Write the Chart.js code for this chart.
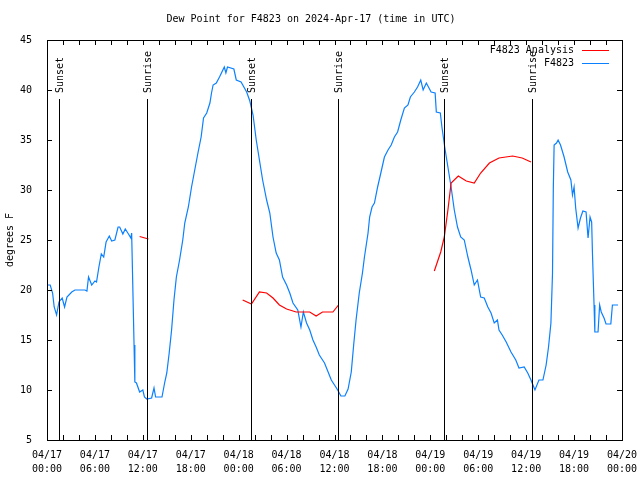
<!DOCTYPE html>
<html>
<head>
<meta charset="utf-8">
<script src="https://cdn.jsdelivr.net/npm/chart.js@4.4.1/dist/chart.umd.min.js"></script>
<style>
  html, body { margin: 0; padding: 0; background: #fff; }
  canvas { display: block; }
</style>
</head>
<body>
<canvas id="dew" width="640" height="480"></canvas>
<script>
// hours since 04/17 00:00 UTC
const obsHours = [
  0.0, 0.4, 0.7, 0.9, 1.2, 1.5, 1.9, 2.2, 2.5, 3.1, 3.5, 4.75, 5.0, 5.2, 5.6, 6.0, 6.2, 6.5, 6.8, 7.1,
  7.4, 7.8, 8.1, 8.5, 8.9, 9.1, 9.5, 9.8, 10.2, 10.5, 10.6, 10.7, 10.9, 11.0, 11.2, 11.6, 12.0, 12.2, 12.5, 13.1,
  13.4, 13.6, 14.4, 14.75, 15.0, 15.3, 15.6, 15.9, 16.2, 16.6, 17.0, 17.25, 17.7, 18.1, 18.5, 18.9, 19.3, 19.6, 20.0, 20.4,
  20.6, 20.8, 21.2, 21.6, 22.2, 22.4, 22.6, 23.4, 23.7, 24.3, 25.0, 25.4, 25.8, 26.2, 26.6, 27.0, 27.5, 27.9, 28.3, 28.7,
  29.1, 29.5, 30.0, 30.4, 30.8, 31.4, 31.8, 32.1, 32.5, 32.9, 33.3, 33.7, 34.1, 34.75, 35.2, 35.6, 36.0, 36.4, 36.8, 37.3,
  37.7, 38.1, 38.4, 38.7, 39.1, 39.5, 39.75, 40.2, 40.4, 40.7, 41.0, 41.4, 41.8, 42.25, 42.7, 43.1, 43.5, 43.9, 44.3, 44.75,
  45.2, 45.5, 46.0, 46.4, 46.8, 47.1, 47.5, 48.1, 48.6, 48.75, 49.25, 49.45, 49.8, 50.2, 50.6, 51.0, 51.4, 51.8, 52.25, 52.7,
  53.1, 53.5, 53.9, 54.3, 54.75, 55.2, 55.6, 56.0, 56.4, 56.6, 57.0, 57.5, 58.1, 58.7, 59.1, 59.75, 60.2, 60.6, 61.1, 61.6,
  62.1, 62.5, 62.8, 63.1, 63.3, 63.4, 63.5, 63.8, 64.0, 64.3, 64.75, 65.2, 65.6, 65.8, 66.0, 66.2, 66.5, 66.8, 67.1, 67.5,
  67.75, 68.0, 68.2, 68.3, 68.5, 68.6, 69.0, 69.2, 69.4, 69.75, 70.0, 70.6, 70.8, 71.5
];
const obsDew = [
  20.5, 20.5, 19.7, 18.3, 17.5, 18.8, 19.2, 18.3, 19.3, 19.8, 20.0, 20.0, 19.9, 21.3, 20.5, 20.9, 20.8, 22.3, 23.6, 23.3,
  24.8, 25.4, 24.9, 25.0, 26.3, 26.3, 25.6, 26.1, 25.6, 25.2, 25.7, 22.0, 14.5, 10.8, 10.7, 9.8, 10.0, 9.3, 9.1, 9.2,
  10.2, 9.3, 9.3, 10.8, 11.7, 13.7, 16.0, 19.0, 21.3, 23.0, 25.0, 26.7, 28.3, 30.3, 32.0, 33.7, 35.3, 37.2, 37.7, 38.7,
  39.7, 40.5, 40.7, 41.3, 42.3, 41.7, 42.3, 42.1, 41.0, 40.8, 39.8, 38.9, 37.5, 35.0, 33.0, 31.0, 29.0, 27.7, 25.3, 23.7,
  23.0, 21.3, 20.5, 19.7, 18.7, 18.0, 16.3, 17.8, 16.7, 16.0, 15.0, 14.3, 13.5, 12.7, 11.8, 11.0, 10.5, 10.0, 9.4, 9.4,
  10.1, 11.8, 14.5, 17.0, 19.7, 21.7, 23.3, 25.7, 27.3, 28.3, 28.7, 30.3, 31.7, 33.3, 34.0, 34.5, 35.3, 35.8, 37.0, 38.2,
  38.5, 39.3, 39.8, 40.3, 41.0, 40.0, 40.7, 39.8, 39.7, 37.8, 37.7, 36.3, 34.3, 32.3, 30.3, 28.0, 26.3, 25.3, 25.0, 23.3,
  22.0, 20.5, 21.0, 19.3, 19.2, 18.3, 17.7, 16.7, 17.0, 16.0, 15.5, 14.8, 13.8, 13.0, 12.2, 12.3, 11.7, 11.0, 10.0, 11.0,
  11.0, 12.5, 14.3, 16.7, 21.7, 30.2, 34.5, 34.7, 35.0, 34.5, 33.3, 31.8, 31.0, 29.5, 30.3, 28.2, 26.2, 27.2, 27.9, 27.8,
  25.2, 27.3, 26.8, 23.7, 18.5, 15.8, 15.8, 18.5, 17.8, 17.2, 16.6, 16.6, 18.5, 18.5
];

// analysis runs, null breaks the line between runs
const anaHours = [
  11.6, 12.7, 18.0,
  24.5, 25.6, 26.6, 27.5, 28.3, 29.1, 30.0, 31.2, 32.9, 33.7, 34.5, 35.8, 36.5, 42.0,
  48.5, 49.3, 49.75, 50.2, 50.6, 51.5, 52.5, 53.5, 54.3, 55.4, 56.6, 58.3, 59.5, 60.6
];
const anaDew = [
  25.35, 25.1, null,
  19.0, 18.6, 19.8, 19.7, 19.2, 18.5, 18.1, 17.8, 17.8, 17.4, 17.8, 17.8, 18.5, null,
  21.9, 23.8, 25.3, 28.0, 30.7, 31.4, 30.9, 30.7, 31.7, 32.7, 33.2, 33.4, 33.2, 32.8
];

const sunHours = [1.5, 12.5, 25.5, 36.5, 49.7, 60.7];
const sunNames = ['Sunset', 'Sunrise', 'Sunset', 'Sunrise', 'Sunset', 'Sunrise'];
const sunLineTop = 39.1;

const dayLabels = ['04/17', '04/18', '04/19', '04/20'];
const clockLabels = ['00:00', '06:00', '12:00', '18:00'];

const FONT = 'DejaVu Sans Mono';
const BLUE = '#0a80ff';
const RED = '#ff0000';

const pairs = (xs, ys) => xs.map((h, i) => ({ x: h, y: ys[i] }));

// border box, inward ticks, sunrise/sunset markers and the key
const gnuplotFrame = {
  id: 'gnuplotFrame',
  afterDatasetsDraw(chart) {
    const { ctx, chartArea: a, scales: { x, y } } = chart;
    ctx.save();
    ctx.strokeStyle = '#000';
    ctx.lineWidth = 1;

    // sun lines
    const yTop = Math.round(y.getPixelForValue(sunLineTop));
    const yBot = Math.round(y.getPixelForValue(5));
    ctx.beginPath();
    sunHours.forEach(h => {
      const px = Math.round(x.getPixelForValue(h)) + 0.5;
      ctx.moveTo(px, yTop);
      ctx.lineTo(px, yBot);
    });
    ctx.stroke();

    ctx.fillStyle = '#000';
    ctx.font = '10px "' + FONT + '"';
    ctx.textAlign = 'left';
    ctx.textBaseline = 'middle';
    sunHours.forEach((h, i) => {
      const px = Math.round(x.getPixelForValue(h)) + 1;
      ctx.save();
      ctx.translate(px, yTop - 6);
      ctx.rotate(-Math.PI / 2);
      ctx.fillText(sunNames[i], 0, 0);
      ctx.restore();
    });

    // frame
    ctx.strokeRect(Math.round(a.left) + 0.5, Math.round(a.top) + 0.5,
      Math.round(a.right - a.left), Math.round(a.bottom - a.top));

    // ticks pointing inward
    ctx.beginPath();
    x.ticks.forEach(t => {
      const px = Math.round(x.getPixelForValue(t.value)) + 0.5;
      ctx.moveTo(px, a.bottom); ctx.lineTo(px, a.bottom - 5);
      ctx.moveTo(px, a.top); ctx.lineTo(px, a.top + 5);
    });
    y.ticks.forEach(t => {
      const py = Math.round(y.getPixelForValue(t.value)) + 0.5;
      ctx.moveTo(a.left, py); ctx.lineTo(a.left + 5, py);
      ctx.moveTo(a.right, py); ctx.lineTo(a.right - 5, py);
    });
    ctx.stroke();

    // key
    ctx.textAlign = 'right';
    chart.data.datasets.forEach((ds, i) => {
      const ty = 50 + i * 13;
      ctx.fillStyle = '#000';
      ctx.fillText(ds.label, 574, ty);
      ctx.strokeStyle = ds.borderColor;
      ctx.beginPath();
      ctx.moveTo(582, ty + 0.5);
      ctx.lineTo(609, ty + 0.5);
      ctx.stroke();
    });
    ctx.restore();
  }
};

new Chart(document.getElementById('dew'), {
  type: 'line',
  data: {
    datasets: [
      {
        label: 'F4823 Analysis',
        data: pairs(anaHours, anaDew),
        borderColor: RED,
        borderWidth: 1.2,
        pointRadius: 0,
        tension: 0,
      },
      {
        label: 'F4823',
        data: pairs(obsHours, obsDew),
        borderColor: BLUE,
        borderWidth: 1.2,
        pointRadius: 0,
        tension: 0,
      },
    ],
  },
  options: {
    responsive: false,
    animation: false,
    devicePixelRatio: 1,
    layout: { padding: { left: 0, right: 18, top: 0, bottom: 0 } },
    plugins: {
      legend: { display: false },
      tooltip: { enabled: false },
      title: {
        display: true,
        text: 'Dew Point for F4823 on 2024-Apr-17 (time in UTC)',
        color: '#000',
        font: { family: FONT, size: 10, weight: 'normal' },
        padding: { top: 13, bottom: 15 },
      },
    },
    scales: {
      x: {
        type: 'linear',
        min: 0,
        max: 72,
        grid: { display: false },
        border: { display: false },
        afterFit: (s) => { s.height = 40; s.paddingLeft = 0; s.paddingRight = 0; },
        ticks: {
          stepSize: 2,
          autoSkip: false,
          maxRotation: 0,
          padding: 0,
          color: '#000',
          font: { family: FONT, size: 10, lineHeight: 1.45 },
          callback: (v) => v % 6 === 0
            ? [dayLabels[Math.floor(v / 24)], clockLabels[(v % 24) / 6]]
            : '',
        },
      },
      y: {
        min: 5,
        max: 45,
        grid: { display: false },
        border: { display: false },
        afterFit: (s) => { s.width = 47; },
        ticks: {
          stepSize: 5,
          padding: 7,
          color: '#000',
          font: { family: FONT, size: 10 },
        },
        title: {
          display: true,
          text: 'degrees F',
          color: '#000',
          font: { family: FONT, size: 10 },
        },
      },
    },
  },
  plugins: [gnuplotFrame],
});
</script>
</body>
</html>
